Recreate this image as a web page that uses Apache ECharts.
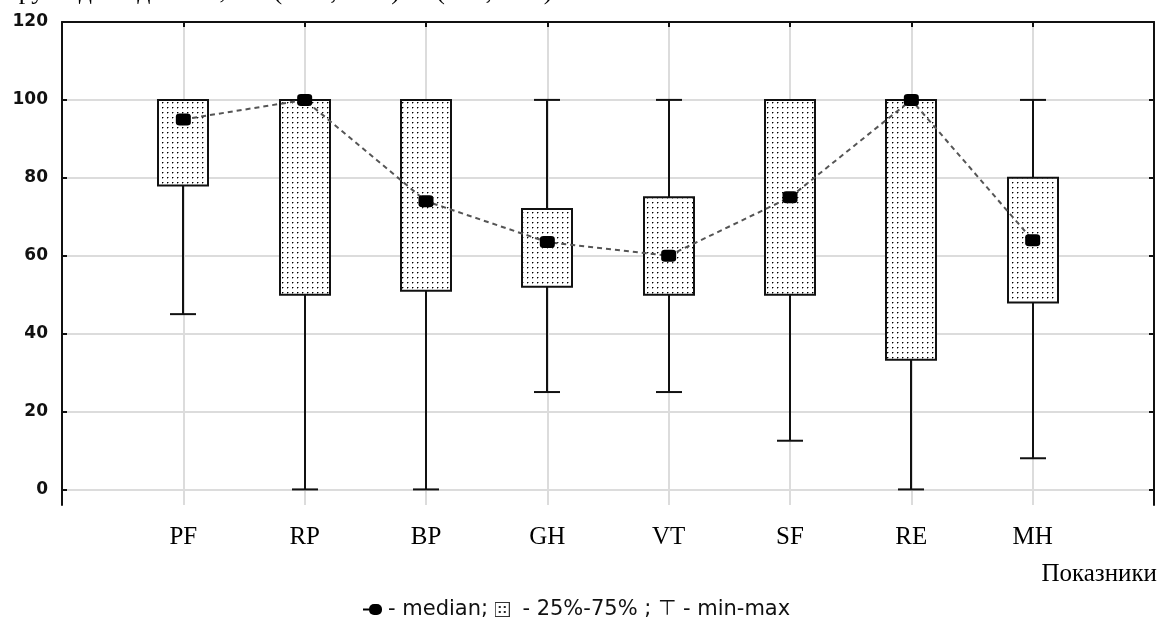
<!DOCTYPE html>
<html>
<head>
<meta charset="utf-8">
<script src="https://cdn.jsdelivr.net/npm/echarts@6/dist/echarts.min.js"></script>
<style>
html,body{margin:0;padding:0;background:#fff;}
#chart{width:1160px;height:620px;}
</style>
</head>
<body>
<div id="chart"></div>
<script>
// ---- data ----
const categories = ['PF', 'RP', 'BP', 'GH', 'VT', 'SF', 'RE', 'MH'];
const minValues    = [45, 0, 0, 25, 25, 12.5, 0, 8];
const q1Values     = [78, 50, 51, 52, 50, 50, 33.3, 48];
const medianValues = [95, 100, 74, 63.5, 60, 75, 100, 64];
const q3Values     = [100, 100, 100, 72, 75, 100, 100, 80];
const maxValues    = [100, 100, 100, 100, 100, 100, 100, 100];
const yTicks = [0, 20, 40, 60, 80, 100, 120];
const xAxisName = 'Показники';
const legendText = ['- median; ', '- 25%-75% ; ⊤ - min-max'];
const topText = 'групи дослідження, Me (25%; 75%) та (min; max) показників якості життя';

// axis categories padded with empty slots at both edges
const axisCats = [''].concat(categories, ['']);

// dotted fill pattern
const pat = document.createElement('canvas');
pat.width = 5; pat.height = 5;
const pctx = pat.getContext('2d');
pctx.fillStyle = '#fff'; pctx.fillRect(0, 0, 5, 5);
pctx.fillStyle = '#000'; pctx.fillRect(2, 2, 1, 1);
pctx.fillStyle = '#999'; pctx.fillRect(3, 2, 1, 1); pctx.fillRect(2, 3, 1, 1);

// legend icon pattern (2x2 dots inside a small box)
const icon = document.createElement('canvas');
icon.width = 15; icon.height = 15;
const ictx = icon.getContext('2d');
ictx.fillStyle = '#fff'; ictx.fillRect(0, 0, 15, 15);
ictx.strokeStyle = '#333'; ictx.lineWidth = 1; ictx.strokeRect(0.5, 0.5, 14, 14);
ictx.fillStyle = '#222';
[[4, 4], [9, 4], [4, 9], [9, 9]].forEach(p => ictx.fillRect(p[0], p[1], 2, 2));

const boxData = categories.map((c, i) => [i + 1, minValues[i], q1Values[i], q3Values[i], maxValues[i]]);
const medData = categories.map((c, i) => [i + 1, medianValues[i]]);

const chart = echarts.init(document.getElementById('chart'));
chart.setOption({
  animation: false,
  backgroundColor: '#fff',
  grid: {left: 62, right: 6, top: 22, bottom: 115, containLabel: false},
  xAxis: [{
    type: 'category', data: axisCats, boundaryGap: false, position: 'bottom',
    axisLine: {show: false, onZero: false}, axisTick: {show: false},
    axisLabel: {interval: 0, margin: 20, color: '#000', fontFamily: 'Liberation Serif', fontSize: 25},
    splitLine: {show: true, interval: 0, lineStyle: {color: '#dcdcdc', width: 2}}
  }, {
    type: 'category', data: axisCats, boundaryGap: false, position: 'top',
    axisLine: {show: true, onZero: false, lineStyle: {color: '#111', width: 2}},
    axisTick: {show: true, inside: true, length: 5, interval: 0, lineStyle: {color: '#111', width: 2}},
    axisLabel: {show: false}, splitLine: {show: false}
  }],
  yAxis: [{
    type: 'value', min: -4, max: 120, position: 'left',
    axisLine: {show: true, onZero: false, lineStyle: {color: '#111', width: 2}},
    axisTick: {show: true, inside: true, length: 5, customValues: yTicks, lineStyle: {color: '#111', width: 2}},
    axisLabel: {customValues: yTicks, margin: 14, color: '#111', fontFamily: 'DejaVu Sans', fontWeight: 'bold', fontSize: 17},
    splitLine: {show: true, lineStyle: {color: '#dcdcdc', width: 2}}
  }, {
    type: 'value', min: -4, max: 120, position: 'right',
    axisLine: {show: true, onZero: false, lineStyle: {color: '#111', width: 2}},
    axisTick: {show: true, inside: true, length: 5, customValues: yTicks, lineStyle: {color: '#111', width: 2}},
    axisLabel: {show: false}, splitLine: {show: false}
  }],
  series: [{
    type: 'custom',
    xAxisIndex: 0, yAxisIndex: 0,
    data: boxData,
    encode: {x: 0, y: [1, 2, 3, 4]},
    z: 2,
    renderItem: function (params, api) {
      const x = api.value(0);
      const pMin = api.coord([x, api.value(1)]);
      const pQ1 = api.coord([x, api.value(2)]);
      const pQ3 = api.coord([x, api.value(3)]);
      const pMax = api.coord([x, api.value(4)]);
      const bw = 50, cw = 26, cx = Math.round(pMin[0]);
      const ls = {stroke: '#111', lineWidth: 2};
      const children = [];
      if (pMin[1] - pQ1[1] > 0.5) {
        children.push({type: 'line', shape: {x1: cx, y1: pMin[1], x2: cx, y2: pQ1[1]}, style: ls});
        children.push({type: 'line', shape: {x1: cx - cw / 2, y1: pMin[1], x2: cx + cw / 2, y2: pMin[1]}, style: ls});
      }
      if (pQ3[1] - pMax[1] > 0.5) {
        children.push({type: 'line', shape: {x1: cx, y1: pQ3[1], x2: cx, y2: pMax[1]}, style: ls});
        children.push({type: 'line', shape: {x1: cx - cw / 2, y1: pMax[1], x2: cx + cw / 2, y2: pMax[1]}, style: ls});
      }
      children.push({
        type: 'rect',
        shape: {x: cx - bw / 2, y: pQ3[1], width: bw, height: pQ1[1] - pQ3[1]},
        style: {fill: {image: pat, repeat: 'repeat'}, stroke: '#111', lineWidth: 2}
      });
      return {type: 'group', children: children};
    }
  }, {
    type: 'line',
    xAxisIndex: 0, yAxisIndex: 0,
    data: medData,
    z: 5,
    symbol: 'roundRect', symbolSize: [15, 12],
    itemStyle: {color: '#000'},
    lineStyle: {color: '#555', width: 2, type: [5, 4]}
  }],
  graphic: [{
    type: 'text', right: 3, top: 562,
    style: {text: xAxisName, font: '25px "Liberation Serif"', fill: '#000'}
  }, {
    type: 'text', left: 363, top: 599,
    style: {
      text: '{ln|}{m|}{t|' + legendText[0] + '}{b|}{t| ' + legendText[1] + '}',
      rich: {
        ln: {width: 6, height: 2, backgroundColor: '#000', verticalAlign: 'middle'},
        m: {width: 13, height: 11, backgroundColor: '#000', borderRadius: 5},
        t: {fontFamily: 'DejaVu Sans', fontSize: 21, fill: '#111', color: '#111', padding: [0, 0, 0, 6]},
        b: {width: 15, height: 15, backgroundColor: {image: icon}}
      }
    }
  }, {
    type: 'text', left: 8, top: -21,
    style: {text: topText, font: '26px "Liberation Serif"', fill: '#000'}
  }]
});
</script>
</body>
</html>
